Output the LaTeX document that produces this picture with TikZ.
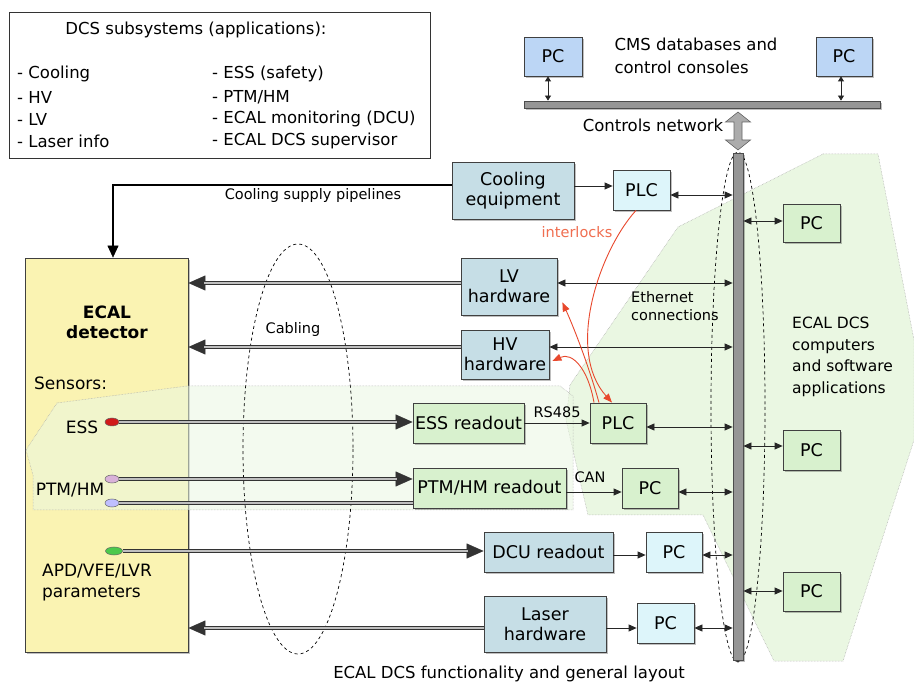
\documentclass[tikz,border=0pt]{standalone}
\usepackage{fontspec}
\setmainfont{DejaVu Sans}
\usetikzlibrary{arrows.meta,shadows,shapes.geometric}
\definecolor{hwblue}{RGB}{198,222,230}
\definecolor{cyanbox}{RGB}{221,245,250}
\definecolor{pcblue}{RGB}{188,214,245}
\definecolor{greenbox}{RGB}{216,241,206}
\definecolor{greenarea}{RGB}{234,247,226}
\definecolor{ecalyellow}{RGB}{250,243,178}
\definecolor{intred}{RGB}{232,72,45}
\definecolor{intlabel}{RGB}{240,110,80}
\definecolor{barfill}{RGB}{150,150,150}
\newcommand{\myfs}[2]{\fontsize{#1}{#2}\selectfont}
\begin{document}
\begin{tikzpicture}[x=1pt,y=-1pt,
  box/.style={draw=black!75, line width=0.8pt, inner sep=0pt, align=center, font=\myfs{17.5}{20},
    drop shadow={shadow xshift=2pt, shadow yshift=-2pt, opacity=0.25, fill=black}},
  hw/.style={box, fill=hwblue},
  cy/.style={box, fill=cyanbox},
  pcb/.style={box, fill=pcblue},
  gr/.style={box, fill=greenbox},
  area/.style={fill=greenarea, draw=gray!70, densely dotted, line width=0.5pt},
  lg/.style={inner sep=0pt, font=\myfs{16.5}{20}},
  txt/.style={inner sep=0pt, font=\myfs{16.5}{23}},
  small/.style={inner sep=0pt, font=\myfs{14.5}{18}},
  mid/.style={inner sep=0pt, font=\myfs{15.5}{21.5}},
  link/.style={draw=black!85, line width=0.8pt, {Triangle[length=8pt,width=7pt]}-{Triangle[length=8pt,width=7pt]}},
  linksmall/.style={draw=black!85, line width=0.8pt, {Triangle[length=5pt,width=6pt]}-{Triangle[length=5pt,width=6pt]}},
  feed/.style={draw=black!85, line width=0.8pt, -{Triangle[length=8pt,width=7pt]}},
  cable/.style={draw=black!80, line width=4.4pt, postaction={draw=black!25, line width=1.4pt, -}},
  cablearrow/.style={draw=black!80, line width=4.4pt, -{Triangle[length=17pt,width=15pt,line width=0.5pt]},
    postaction={draw=black!25, line width=1.4pt, -, shorten >=16pt}},
  pipe/.style={draw=black, line width=2pt, -{Triangle[length=12pt,width=11pt,line width=0.5pt]}},
  interlock/.style={draw=intred, line width=0.9pt, -{Triangle[length=9pt,width=7pt]}},
  sensor/.style={ellipse, draw=black!60, line width=0.5pt, minimum width=14pt, minimum height=8pt, inner sep=0pt}
]
\useasboundingbox (0,0) rectangle (914,684);
\fill[white] (0,0) rectangle (914,684);

% green areas
\path[area] (823,154) -- (678,227) -- (570,385) -- (566,420) -- (588,515) -- (703,515) -- (774,661) -- (843,661) -- (914,440) -- (914,340) -- (878,154) -- cycle;

\node[box, fill=ecalyellow, minimum width=163pt, minimum height=394pt] (ecal) at (106.5,455) {};
\path[area, fill opacity=0.55] (57,403) -- (187,386) -- (560,386) -- (573,396) -- (573,510) -- (33,510) -- (33,475) -- (26,450) -- cycle;

% dashed ellipses
\draw[dashed, line width=0.7pt] (298,449) ellipse [x radius=55, y radius=205];
\draw[dashed, line width=0.7pt] (738,407) ellipse [x radius=27, y radius=255];

% legend
\node[draw=black!80, line width=0.8pt, fill=white, minimum width=421pt, minimum height=146pt, inner sep=0pt] (legend) at (219.5,85) {};
\node[lg] (lgt) at (196,30) {DCS subsystems (applications):};
\node[lg, anchor=west] (lg1) at (17,74) {- Cooling};
\node[lg, anchor=west] (lg2) at (17,97) {- HV};
\node[lg, anchor=west] (lg3) at (17,119) {- LV};
\node[lg, anchor=west] (lg4) at (17,141) {- Laser info};
\node[lg, anchor=west] (lg5) at (212,74) {- ESS (safety)};
\node[lg, anchor=west] (lg6) at (212,97) {- PTM/HM};
\node[lg, anchor=west] (lg7) at (212,119) {- ECAL monitoring (DCU)};
\node[lg, anchor=west] (lg8) at (212,141) {- ECAL DCS supervisor};

% top network
\node[pcb, minimum width=58pt, minimum height=39pt] (pct1) at (553,56.5) {PC};
\node[pcb, minimum width=56pt, minimum height=39pt] (pct2) at (844,56.5) {PC};
\node[txt, align=left] (cms) at (696,56) {CMS databases and\\control consoles};
\node[draw=black!70, fill=barfill, line width=0.8pt, minimum width=356pt, minimum height=7pt, inner sep=0pt,
  drop shadow={shadow xshift=2pt, shadow yshift=-2pt, opacity=0.25, fill=black}] (net) at (702,104.5) {};
\draw[linksmall] (pct1.south -| 548,0) -- (net.north -| 548,0);
\draw[linksmall] (pct2.south -| 841,0) -- (net.north -| 841,0);
\node[txt] (ctrl) at (653,125) {Controls network};
\path[fill=gray!65, draw=black!60, line width=0.6pt] (738,112) -- (750.5,122) -- (742,122) -- (742,140) -- (750.5,140) -- (738,150) -- (725.5,140) -- (734,140) -- (734,122) -- (725.5,122) -- cycle;

% backbone
\node[draw=black!70, fill=barfill, line width=0.8pt, minimum width=10pt, minimum height=507pt, inner sep=0pt,
  drop shadow={shadow xshift=2pt, shadow yshift=-2pt, opacity=0.25, fill=black}] (bus) at (738,406.5) {};

% boxes
\node[hw, minimum width=122pt, minimum height=57pt] (cool) at (513,190.5) {Cooling\\equipment};
\node[cy, minimum width=57pt, minimum height=40pt] (plcA) at (641.5,190) {PLC};
\node[gr, minimum width=57pt, minimum height=38pt] (pcR1) at (811.5,223.5) {PC};
\node[hw, minimum width=96pt, minimum height=57pt] (lv) at (509,286.5) {LV\\hardware};
\node[hw, minimum width=88pt, minimum height=49pt] (hv) at (505,354.5) {HV\\hardware};
\node[gr, minimum width=111pt, minimum height=40pt] (essro) at (468.5,423) {ESS readout};
\node[gr, minimum width=56pt, minimum height=40pt] (plcB) at (618,423) {PLC};
\node[gr, minimum width=57pt, minimum height=40pt] (pcR2) at (811.5,450) {PC};
\node[gr, minimum width=153pt, minimum height=40pt] (ptmro) at (489.5,488) {PTM/HM readout};
\node[gr, minimum width=56pt, minimum height=40pt] (pcM) at (650,488) {PC};
\node[hw, minimum width=129pt, minimum height=40pt] (dcuro) at (548.5,552) {DCU readout};
\node[cy, minimum width=56pt, minimum height=40pt] (pcD) at (674,552) {PC};
\node[gr, minimum width=57pt, minimum height=39pt] (pcR3) at (811.5,591.5) {PC};
\node[hw, minimum width=122pt, minimum height=56pt] (laser) at (545,624) {Laser\\hardware};
\node[cy, minimum width=57pt, minimum height=40pt] (pcL) at (665.5,623) {PC};

% links to backbone
\draw[link] (plcA.east |- 0,195) -- (bus.west |- 0,195);
\draw[link] (bus.east |- 0,221) -- (pcR1.west |- 0,221);
\draw[link] (lv.east |- 0,283) -- (bus.west |- 0,283);
\draw[link] (hv.east |- 0,347) -- (bus.west |- 0,347);
\draw[link] (plcB.east |- 0,427) -- (bus.west |- 0,427);
\draw[link] (bus.east |- 0,446) -- (pcR2.west |- 0,446);
\draw[link] (pcM.east |- 0,492) -- (bus.west |- 0,492);
\draw[link] (pcD.east |- 0,555) -- (bus.west |- 0,555);
\draw[link] (bus.east |- 0,591) -- (pcR3.west |- 0,591);
\draw[link] (pcL.east |- 0,628) -- (bus.west |- 0,628);

% feeds
\draw[feed] (cool.east |- 0,186) -- (plcA.west |- 0,186);
\draw[feed] (essro.east |- 0,423) -- (plcB.west |- 0,423);
\draw[feed] (ptmro.east |- 0,492) -- (pcM.west |- 0,492);
\draw[feed] (dcuro.east |- 0,555) -- (pcD.west |- 0,555);
\draw[feed] (laser.east |- 0,628) -- (pcL.west |- 0,628);

% sensors
\node[sensor, fill=red!80!black!90] (sEss) at (112,422) {};
\node[sensor, fill=violet!30] (sPtm1) at (112,479) {};
\node[sensor, fill=blue!25] (sPtm2) at (112,503) {};
\node[sensor, fill=green!70!black!70, minimum width=17pt] (sDcu) at (114,551) {};

% cables
\draw[cablearrow] (lv.west |- 0,283) -- (ecal.east |- 0,283);
\draw[cablearrow] (hv.west |- 0,347) -- (ecal.east |- 0,347);
\draw[cablearrow] (laser.west |- 0,628) -- (ecal.east |- 0,628);
\draw[cablearrow] (sEss.east) -- (essro.west |- sEss.east);
\draw[cablearrow] (sPtm1.east) -- (ptmro.west |- sPtm1.east);
\draw[cable] (sPtm2.east) -- (ptmro.west |- sPtm2.east);
\draw[cablearrow] (sDcu.east) -- (dcuro.west |- sDcu.east);

% cooling pipeline
\draw[pipe] (cool.west |- 0,185) -| (ecal.north -| 113,0);

% interlocks
\draw[interlock] (plcA.south -| 636,0) .. controls (600,250) and (565,350) .. (plcB.north -| 612,0);
\draw[interlock] (plcB.north -| 599,0) .. controls (590,370) and (575,330) .. ([xshift=5pt,yshift=13pt]lv.south east);
\draw[interlock] (plcB.north -| 594,0) .. controls (588,368) and (572,352) .. ([xshift=3pt,yshift=-6.5pt]hv.east);

% texts
\node[small] (pipetxt) at (313,196) {Cooling supply pipelines};
\node[small] (cabtxt) at (293,330) {Cabling};
\node[small, text=intlabel] (inttxt) at (577,232) {interlocks};
\node[small, align=left, anchor=west] (ethtxt) at (631,306) {Ethernet\\connections};
\node[small] (rstxt) at (557,412) {RS485};
\node[small] (cantxt) at (590,477) {CAN};
\node[mid, align=left, anchor=west] (dcstxt) at (792,357) {ECAL DCS\\computers\\and software\\applications};
\node[inner sep=0pt, align=center, font=\myfs{17}{20}\bfseries] (ecaltxt) at (107,322) {ECAL\\detector};
\node[inner sep=0pt, anchor=west, font=\myfs{17}{20}] (senstxt) at (34,383) {Sensors:};
\node[inner sep=0pt, font=\myfs{17}{20}] (esstxt) at (82,427) {ESS};
\node[inner sep=0pt, font=\myfs{17}{20}] (ptmtxt) at (70,490) {PTM/HM};
\node[inner sep=0pt, anchor=west, align=left, font=\myfs{17}{21}] (apdtxt) at (42,583) {APD/VFE/LVR\\parameters};
\node[txt] (caption) at (509,674) {ECAL DCS functionality and general layout};
\end{tikzpicture}
\end{document}
